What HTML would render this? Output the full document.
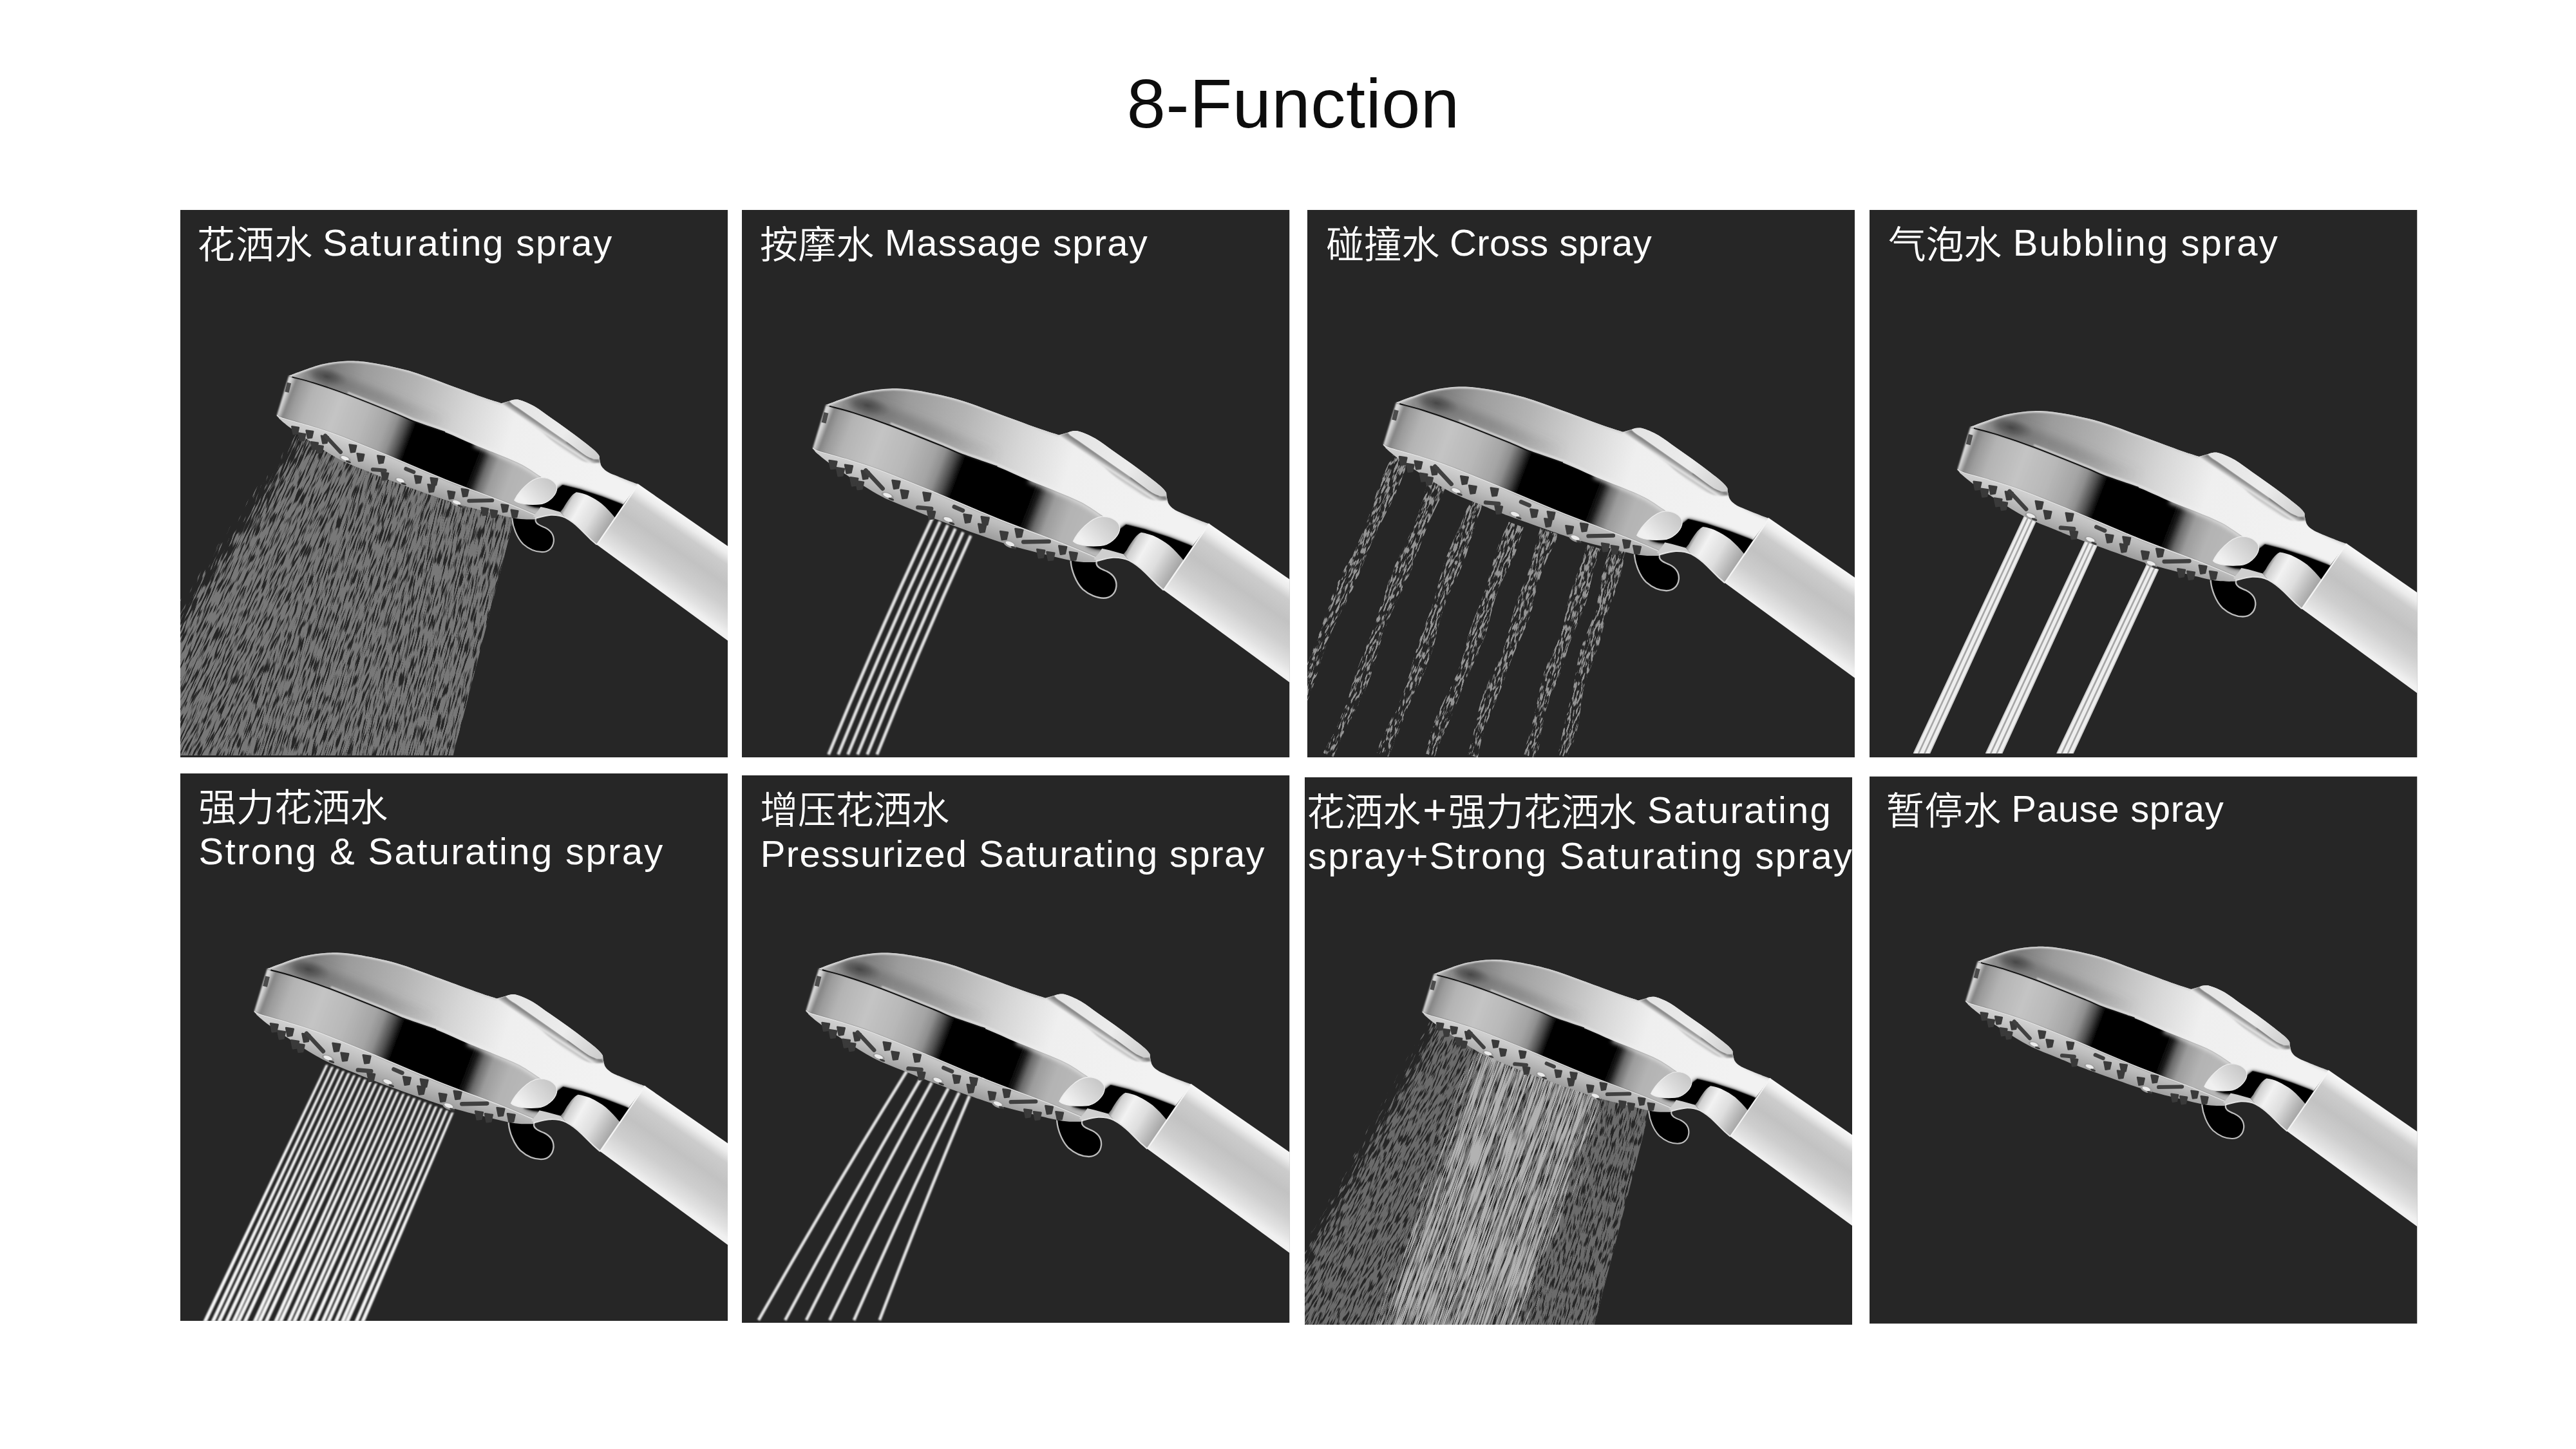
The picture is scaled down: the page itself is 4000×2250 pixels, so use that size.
<!DOCTYPE html>
<html lang="zh"><head><meta charset="utf-8"><title>8-Function</title>
<style>
html,body{margin:0;padding:0;background:#fff;}
body{width:4000px;height:2250px;position:relative;overflow:hidden;font-family:"Liberation Sans","Noto Sans CJK SC",sans-serif;}
#gfx{position:absolute;left:0;top:0;}
#txt{position:absolute;left:0;top:0;}
#txt text{fill:#fff;font-family:"Liberation Sans","Noto Sans CJK SC",sans-serif;}
#txt text.c{font-family:"Liberation Sans","Noto Sans CJK SC",sans-serif;font-weight:350;}
#txt text.t{fill:#0d0d0d;}
</style></head><body>
<svg id="gfx" width="4000" height="2250" viewBox="0 0 4000 2250">
<defs>

<linearGradient id="gBand" gradientUnits="userSpaceOnUse" x1="3052" y1="1540" x2="3470" y2="1700">
<stop offset="0" stop-color="#dedede"/><stop offset="0.015" stop-color="#d0d0d0"/><stop offset="0.032" stop-color="#868686"/>
<stop offset="0.055" stop-color="#9c9c9c"/><stop offset="0.10" stop-color="#b4b4b4"/><stop offset="0.20" stop-color="#c4c4c4"/><stop offset="0.30" stop-color="#b8b8b8"/>
<stop offset="0.38" stop-color="#a4a4a4"/><stop offset="0.41" stop-color="#8e8e8e"/><stop offset="0.443" stop-color="#505050"/><stop offset="0.474" stop-color="#060606"/>
<stop offset="0.50" stop-color="#000"/><stop offset="0.713" stop-color="#000"/><stop offset="0.733" stop-color="#1c1c1c"/>
<stop offset="0.758" stop-color="#6a6a6a"/><stop offset="0.79" stop-color="#9c9c9c"/><stop offset="0.85" stop-color="#b4b4b4"/><stop offset="1" stop-color="#bcbcbc"/>
</linearGradient>
<linearGradient id="gDome" gradientUnits="userSpaceOnUse" x1="3070" y1="1490" x2="3560" y2="1640">
<stop offset="0" stop-color="#c4c4c4"/><stop offset="0.05" stop-color="#8e8e8e"/><stop offset="0.12" stop-color="#7c7c7c"/><stop offset="0.22" stop-color="#9c9c9c"/>
<stop offset="0.38" stop-color="#b4b4b4"/><stop offset="0.55" stop-color="#d6d6d6"/><stop offset="0.7" stop-color="#efefef"/><stop offset="1" stop-color="#f2f2f2"/>
</linearGradient>
<radialGradient id="gDark" gradientUnits="userSpaceOnUse" cx="3130" cy="1494" r="34" gradientTransform="translate(3130 1494) rotate(14) scale(1 0.42) translate(-3130 -1494)">
<stop offset="0" stop-color="#333" stop-opacity="0.95"/><stop offset="0.5" stop-color="#444" stop-opacity="0.55"/><stop offset="1" stop-color="#666" stop-opacity="0"/>
</radialGradient>
<linearGradient id="gPlate" gradientUnits="userSpaceOnUse" x1="3200" y1="1600" x2="3185" y2="1645">
<stop offset="0" stop-color="#d6d6d6"/><stop offset="0.5" stop-color="#bcbcbc"/><stop offset="1" stop-color="#9a9a9a"/>
</linearGradient>
<linearGradient id="gHandle" gradientUnits="userSpaceOnUse" x1="3616.3" y1="1662.1" x2="3551.4" y2="1756.6">
<stop offset="0" stop-color="#f8f8f8"/><stop offset="0.1" stop-color="#ececec"/><stop offset="0.22" stop-color="#cccccc"/><stop offset="0.45" stop-color="#c2c2c2"/>
<stop offset="0.7" stop-color="#cecece"/><stop offset="0.9" stop-color="#e2e2e2"/><stop offset="1" stop-color="#f0f0f0"/>
</linearGradient>
<linearGradient id="gCyl" gradientUnits="userSpaceOnUse" x1="3497" y1="1697" x2="3567" y2="1737">
<stop offset="0" stop-color="#5a5a5a"/><stop offset="0.1" stop-color="#cfcfcf"/><stop offset="0.3" stop-color="#f2f2f2"/><stop offset="0.6" stop-color="#dedede"/><stop offset="0.85" stop-color="#b8b8b8"/><stop offset="1" stop-color="#a2a2a2"/>
</linearGradient>
<linearGradient id="gOval" gradientUnits="userSpaceOnUse" x1="3440" y1="1690" x2="3478" y2="1655">
<stop offset="0" stop-color="#f0f0f0"/><stop offset="0.5" stop-color="#dadada"/><stop offset="1" stop-color="#c8c8c8"/>
</linearGradient>
<linearGradient id="gBtn" gradientUnits="userSpaceOnUse" x1="3420" y1="1535" x2="3550" y2="1620">
<stop offset="0" stop-color="#e4e4e4"/><stop offset="0.6" stop-color="#ececec"/><stop offset="1" stop-color="#cfcfcf"/>
</linearGradient>
<linearGradient id="gWall" gradientUnits="userSpaceOnUse" x1="3479.4" y1="1578.3" x2="3470.6" y2="1591.7">
<stop offset="0" stop-color="#7e7e7e"/><stop offset="0.3" stop-color="#b2b2b2"/><stop offset="0.5" stop-color="#e8e8e8"/><stop offset="0.68" stop-color="#bdbdbd"/><stop offset="1" stop-color="#f0f0f0" stop-opacity="0"/>
</linearGradient>
<linearGradient id="gSeamHi" gradientUnits="userSpaceOnUse" x1="3300" y1="1560" x2="3286" y2="1600">
<stop offset="0" stop-color="#fff" stop-opacity="0"/><stop offset="1" stop-color="#fff" stop-opacity="0.55"/>
</linearGradient>
<filter id="fBlur2" x="-10%" y="-10%" width="120%" height="120%"><feGaussianBlur stdDeviation="2.2"/></filter>
<linearGradient id="gShade" gradientUnits="userSpaceOnUse" x1="3100" y1="1500" x2="3320" y2="1580"><stop offset="0" stop-color="#5e5e5e" stop-opacity="0.5"/><stop offset="0.5" stop-color="#5e5e5e" stop-opacity="0.36"/><stop offset="1" stop-color="#5e5e5e" stop-opacity="0"/></linearGradient>
<filter id="fBlur5" x="-20%" y="-60%" width="140%" height="220%"><feGaussianBlur stdDeviation="6"/></filter>
<filter id="fBlur3" x="-20%" y="-20%" width="140%" height="140%"><feGaussianBlur stdDeviation="3.2"/></filter>
<filter id="fBlur1" x="-10%" y="-10%" width="120%" height="120%"><feGaussianBlur stdDeviation="1.1"/></filter>
<clipPath id="cpTop"><path d="M3070.9,1493.1 C3074.5,1491.8 3083.6,1488.1 3092.6,1485.0 C3101.6,1481.9 3113.2,1477.2 3124.9,1474.7 C3136.6,1472.2 3150.2,1470.2 3162.8,1469.9 C3175.5,1469.6 3185.0,1470.3 3200.8,1472.8 C3216.6,1475.3 3238.7,1479.7 3257.7,1485.1 C3276.7,1490.5 3295.6,1498.2 3314.6,1505.0 C3333.6,1511.8 3357.0,1520.7 3371.6,1525.9 C3386.2,1531.1 3397.3,1534.3 3402.4,1536.0 L3415.4,1532.3 C3417.8,1532.0 3423.2,1529.0 3429.7,1530.4 C3436.2,1531.9 3446.2,1536.3 3454.5,1541.0 C3462.8,1545.7 3471.1,1552.6 3479.4,1558.4 C3487.7,1564.2 3495.9,1569.8 3504.2,1575.8 C3512.5,1581.8 3521.8,1588.8 3529.1,1594.4 C3536.3,1600.0 3543.3,1605.4 3547.7,1609.3 C3552.0,1613.2 3553.9,1616.5 3555.2,1618.0 L3556.0,1624.5 C3556.5,1626.1 3557.2,1631.4 3558.9,1634.2 C3560.6,1637.0 3563.0,1639.3 3566.3,1641.6 C3569.6,1643.9 3572.6,1645.1 3578.8,1647.8 C3585.0,1650.5 3597.3,1655.4 3603.6,1657.8 C3609.8,1660.2 3614.2,1661.6 3616.3,1662.4 L3592.4,1694.0 L3559.4,1681.5 L3525.2,1670.1 L3497.9,1663.3 L3488.8,1670.5 L3466,1652 C3460.8,1648.7 3446.3,1638.0 3435.0,1632.0 C3423.7,1626.0 3410.5,1621.0 3398.0,1615.8 C3385.5,1610.6 3373.9,1606.4 3360.0,1600.6 C3346.1,1594.8 3330.4,1587.0 3314.6,1580.9 C3298.8,1574.8 3278.0,1568.6 3265.3,1563.9 C3252.7,1559.2 3255.8,1559.4 3238.7,1552.5 C3221.6,1545.6 3184.2,1530.5 3162.8,1522.4 C3141.4,1514.4 3124.5,1508.8 3110.0,1504.2 C3095.5,1499.6 3081.7,1496.4 3076.0,1494.8Z"/></clipPath>
<clipPath id="cpBand"><path d="M3070.9,1493.1 L3076,1494.8 C3081.7,1496.4 3095.5,1499.6 3110.0,1504.2 C3124.5,1508.8 3141.4,1514.4 3162.8,1522.4 C3184.2,1530.5 3221.6,1545.6 3238.7,1552.5 C3255.8,1559.4 3252.7,1559.2 3265.3,1563.9 C3278.0,1568.6 3298.8,1574.8 3314.6,1580.9 C3330.4,1587.0 3346.1,1594.8 3360.0,1600.6 C3373.9,1606.4 3385.5,1610.6 3398.0,1615.8 C3410.5,1621.0 3423.7,1626.0 3435.0,1632.0 C3446.3,1638.0 3460.8,1648.7 3466.0,1652.0 L3470,1700 L3457,1711 C3449.1,1707.7 3433.2,1700.3 3409.5,1691.0 C3385.8,1681.7 3346.2,1667.6 3314.6,1654.9 C3283.0,1642.2 3248.2,1626.8 3219.8,1615.1 C3191.4,1603.4 3163.9,1592.1 3143.9,1584.7 C3123.9,1577.3 3113.9,1574.8 3100.0,1570.5 C3086.1,1566.2 3068.3,1561.8 3060.4,1559.1 C3052.5,1556.4 3053.7,1555.0 3052.3,1554.2Z"/></clipPath>
<g id="head">
<path d="M3419.4,1712 L3419.4,1716.8 C3420.5,1728.2 3426.2,1745.2 3436.4,1755.5 C3445.5,1763.5 3456.9,1768 3466,1768 C3475.1,1768 3483.1,1762.3 3484.2,1750.9 C3484.8,1740.7 3478.6,1733.9 3470.6,1729.9 C3463.8,1727 3456.9,1724.7 3455.8,1719 L3456.4,1712 Z" fill="#000" stroke="#bdbdbd" stroke-width="2.2"/>
<path d="M3052.3,1554.2 C3053.7,1555.0 3052.5,1556.4 3060.4,1559.1 C3068.3,1561.8 3086.1,1566.2 3100.0,1570.5 C3113.9,1574.8 3123.9,1577.3 3143.9,1584.7 C3163.9,1592.1 3191.4,1603.4 3219.8,1615.1 C3248.2,1626.8 3283.0,1642.2 3314.6,1654.9 C3346.2,1667.6 3385.8,1681.7 3409.5,1691.0 C3433.2,1700.3 3449.1,1707.7 3457.0,1711.0 L3457,1717 C3452.2,1716.8 3439.7,1717.6 3428.5,1716.0 C3417.3,1714.4 3407.1,1711.8 3390.0,1707.5 C3372.9,1703.2 3351.2,1698.5 3326.0,1690.5 C3300.8,1682.5 3260.5,1667.8 3238.7,1659.8 C3216.9,1651.8 3209.6,1648.5 3195.0,1642.5 C3180.4,1636.5 3165.6,1631.2 3151.4,1624.0 C3137.2,1616.8 3123.0,1607.3 3110.0,1599.0 C3097.0,1590.7 3082.6,1580.9 3073.6,1574.4 C3064.6,1567.9 3058.9,1562.4 3056.0,1560.0Z" fill="url(#gPlate)"/>
<path d="M3075.7,1572.1 l10.8,1.6 l-2.2,9.6 l-6.2,0.8z" fill="#3a3a3a" stroke="#3a3a3a" stroke-width="2.4" stroke-linejoin="round"/><path d="M3098.1,1578.3 l10.8,1.6 l-2.2,9.6 l-6.2,0.8z" fill="#3a3a3a" stroke="#3a3a3a" stroke-width="2.4" stroke-linejoin="round"/><path d="M3105.7,1596.2 l10.8,1.6 l-2.2,9.6 l-6.2,0.8z" fill="#3a3a3a" stroke="#3a3a3a" stroke-width="2.4" stroke-linejoin="round"/><path d="M3121.6,1586.6 l10.8,1.6 l-2.2,9.6 l-6.2,0.8z" fill="#3a3a3a" stroke="#3a3a3a" stroke-width="2.4" stroke-linejoin="round"/><path d="M3165.4,1600.4 l10.8,1.6 l-2.2,9.6 l-6.2,0.8z" fill="#3a3a3a" stroke="#3a3a3a" stroke-width="2.4" stroke-linejoin="round"/><path d="M3177.5,1614.2 l10.8,1.6 l-2.2,9.6 l-6.2,0.8z" fill="#3a3a3a" stroke="#3a3a3a" stroke-width="2.4" stroke-linejoin="round"/><path d="M3209.3,1617.6 l10.8,1.6 l-2.2,9.6 l-6.2,0.8z" fill="#3a3a3a" stroke="#3a3a3a" stroke-width="2.4" stroke-linejoin="round"/><path d="M3215.5,1643.5 l10.8,1.6 l-2.2,9.6 l-6.2,0.8z" fill="#3a3a3a" stroke="#3a3a3a" stroke-width="2.4" stroke-linejoin="round"/><path d="M3267.2,1648.7 l10.8,1.6 l-2.2,9.6 l-6.2,0.8z" fill="#3a3a3a" stroke="#3a3a3a" stroke-width="2.4" stroke-linejoin="round"/><path d="M3292.1,1652.2 l10.8,1.6 l-2.2,9.6 l-6.2,0.8z" fill="#3a3a3a" stroke="#3a3a3a" stroke-width="2.4" stroke-linejoin="round"/><path d="M3287.9,1662.5 l10.8,1.6 l-2.2,9.6 l-6.2,0.8z" fill="#3a3a3a" stroke="#3a3a3a" stroke-width="2.4" stroke-linejoin="round"/><path d="M3319.0,1672.9 l10.8,1.6 l-2.2,9.6 l-6.2,0.8z" fill="#3a3a3a" stroke="#3a3a3a" stroke-width="2.4" stroke-linejoin="round"/><path d="M3340.4,1669.4 l10.8,1.6 l-2.2,9.6 l-6.2,0.8z" fill="#3a3a3a" stroke="#3a3a3a" stroke-width="2.4" stroke-linejoin="round"/><path d="M3371.4,1698.7 l10.8,1.6 l-2.2,9.6 l-6.2,0.8z" fill="#3a3a3a" stroke="#3a3a3a" stroke-width="2.4" stroke-linejoin="round"/><path d="M3385.3,1702.2 l10.8,1.6 l-2.2,9.6 l-6.2,0.8z" fill="#3a3a3a" stroke="#3a3a3a" stroke-width="2.4" stroke-linejoin="round"/><path d="M3402.5,1693.6 l10.8,1.6 l-2.2,9.6 l-6.2,0.8z" fill="#3a3a3a" stroke="#3a3a3a" stroke-width="2.4" stroke-linejoin="round"/><path d="M3417.7,1702.2 l10.8,1.6 l-2.2,9.6 l-6.2,0.8z" fill="#3a3a3a" stroke="#3a3a3a" stroke-width="2.4" stroke-linejoin="round"/><path d="M3086.1,1582.4 l10.8,1.6 l-2.2,9.6 l-6.2,0.8z" fill="#3a3a3a" stroke="#3a3a3a" stroke-width="2.4" stroke-linejoin="round"/><path d="M3113.7,1601.4 l10.8,1.6 l-2.2,9.6 l-6.2,0.8z" fill="#3a3a3a" stroke="#3a3a3a" stroke-width="2.4" stroke-linejoin="round"/><line x1="3127.7" y1="1586.3" x2="3151.8" y2="1612.2" stroke="#404040" stroke-width="6" stroke-linecap="round"/><line x1="3201.9" y1="1639.1" x2="3220.9" y2="1640.8" stroke="#404040" stroke-width="6" stroke-linecap="round"/><line x1="3352.0" y1="1688.1" x2="3388.2" y2="1687.4" stroke="#404040" stroke-width="6" stroke-linecap="round"/><line x1="3253.6" y1="1638.1" x2="3265.7" y2="1643.3" stroke="#404040" stroke-width="6" stroke-linecap="round"/><ellipse cx="3158.7" cy="1622.5" rx="9.5" ry="4.6" transform="rotate(21 3158.7 1622.5)" fill="#9c9c9c"/><ellipse cx="3158.2" cy="1621.8" rx="6.5" ry="2.8" transform="rotate(21 3158.7 1622.5)" fill="#ececec"/><ellipse cx="3163.7" cy="1627.1" rx="4.2" ry="1.5" transform="rotate(21 3163.7 1627.5)" fill="#3a3a3a"/><ellipse cx="3245.0" cy="1657.1" rx="9.5" ry="4.6" transform="rotate(21 3245.0 1657.1)" fill="#9c9c9c"/><ellipse cx="3244.5" cy="1656.3" rx="6.5" ry="2.8" transform="rotate(21 3245.0 1657.1)" fill="#ececec"/><ellipse cx="3250.0" cy="1661.7" rx="4.2" ry="1.5" transform="rotate(21 3250.0 1662.1)" fill="#3a3a3a"/><ellipse cx="3333.0" cy="1691.6" rx="9.5" ry="4.6" transform="rotate(21 3333.0 1691.6)" fill="#9c9c9c"/><ellipse cx="3332.5" cy="1690.8" rx="6.5" ry="2.8" transform="rotate(21 3333.0 1691.6)" fill="#ececec"/><ellipse cx="3338.0" cy="1696.2" rx="4.2" ry="1.5" transform="rotate(21 3338.0 1696.6)" fill="#3a3a3a"/>
<path d="M3070.9,1493.1 L3076,1494.8 C3081.7,1496.4 3095.5,1499.6 3110.0,1504.2 C3124.5,1508.8 3141.4,1514.4 3162.8,1522.4 C3184.2,1530.5 3221.6,1545.6 3238.7,1552.5 C3255.8,1559.4 3252.7,1559.2 3265.3,1563.9 C3278.0,1568.6 3298.8,1574.8 3314.6,1580.9 C3330.4,1587.0 3346.1,1594.8 3360.0,1600.6 C3373.9,1606.4 3385.5,1610.6 3398.0,1615.8 C3410.5,1621.0 3423.7,1626.0 3435.0,1632.0 C3446.3,1638.0 3460.8,1648.7 3466.0,1652.0 L3470,1700 L3457,1711 C3449.1,1707.7 3433.2,1700.3 3409.5,1691.0 C3385.8,1681.7 3346.2,1667.6 3314.6,1654.9 C3283.0,1642.2 3248.2,1626.8 3219.8,1615.1 C3191.4,1603.4 3163.9,1592.1 3143.9,1584.7 C3123.9,1577.3 3113.9,1574.8 3100.0,1570.5 C3086.1,1566.2 3068.3,1561.8 3060.4,1559.1 C3052.5,1556.4 3053.7,1555.0 3052.3,1554.2Z" fill="url(#gBand)" filter="url(#fBlur1)"/>
<path d="M3052.3,1554.2 C3053.7,1555.0 3052.5,1556.4 3060.4,1559.1 C3068.3,1561.8 3086.1,1566.2 3100.0,1570.5 C3113.9,1574.8 3123.9,1577.3 3143.9,1584.7 C3163.9,1592.1 3191.4,1603.4 3219.8,1615.1 C3248.2,1626.8 3283.0,1642.2 3314.6,1654.9 C3346.2,1667.6 3385.8,1681.7 3409.5,1691.0 C3433.2,1700.3 3449.1,1707.7 3457.0,1711.0" fill="none" stroke="#e0e0e0" stroke-width="1.6"/>
<path d="M3070.9,1493.1 C3074.5,1491.8 3083.6,1488.1 3092.6,1485.0 C3101.6,1481.9 3113.2,1477.2 3124.9,1474.7 C3136.6,1472.2 3150.2,1470.2 3162.8,1469.9 C3175.5,1469.6 3185.0,1470.3 3200.8,1472.8 C3216.6,1475.3 3238.7,1479.7 3257.7,1485.1 C3276.7,1490.5 3295.6,1498.2 3314.6,1505.0 C3333.6,1511.8 3357.0,1520.7 3371.6,1525.9 C3386.2,1531.1 3397.3,1534.3 3402.4,1536.0 L3415.4,1532.3 C3417.8,1532.0 3423.2,1529.0 3429.7,1530.4 C3436.2,1531.9 3446.2,1536.3 3454.5,1541.0 C3462.8,1545.7 3471.1,1552.6 3479.4,1558.4 C3487.7,1564.2 3495.9,1569.8 3504.2,1575.8 C3512.5,1581.8 3521.8,1588.8 3529.1,1594.4 C3536.3,1600.0 3543.3,1605.4 3547.7,1609.3 C3552.0,1613.2 3553.9,1616.5 3555.2,1618.0 L3556.0,1624.5 C3556.5,1626.1 3557.2,1631.4 3558.9,1634.2 C3560.6,1637.0 3563.0,1639.3 3566.3,1641.6 C3569.6,1643.9 3572.6,1645.1 3578.8,1647.8 C3585.0,1650.5 3597.3,1655.4 3603.6,1657.8 C3609.8,1660.2 3614.2,1661.6 3616.3,1662.4 L3592.4,1694.0 L3559.4,1681.5 L3525.2,1670.1 L3497.9,1663.3 L3488.8,1670.5 L3466,1652 C3460.8,1648.7 3446.3,1638.0 3435.0,1632.0 C3423.7,1626.0 3410.5,1621.0 3398.0,1615.8 C3385.5,1610.6 3373.9,1606.4 3360.0,1600.6 C3346.1,1594.8 3330.4,1587.0 3314.6,1580.9 C3298.8,1574.8 3278.0,1568.6 3265.3,1563.9 C3252.7,1559.2 3255.8,1559.4 3238.7,1552.5 C3221.6,1545.6 3184.2,1530.5 3162.8,1522.4 C3141.4,1514.4 3124.5,1508.8 3110.0,1504.2 C3095.5,1499.6 3081.7,1496.4 3076.0,1494.8Z" fill="url(#gDome)"/>
<g clip-path="url(#cpTop)">
<rect x="3080" y="1470" width="110" height="60" fill="url(#gDark)"/>
<path d="M3110.0,1489.2 C3118.8,1492.2 3141.4,1499.4 3162.8,1507.4 C3184.2,1515.5 3221.6,1530.6 3238.7,1537.5 C3255.8,1544.4 3252.7,1544.2 3265.3,1548.9 C3278.0,1553.6 3306.4,1563.1 3314.6,1565.9" fill="none" stroke="url(#gShade)" stroke-width="20" filter="url(#fBlur5)"/>
<path d="M3162.8,1519.2 C3175.5,1524.2 3221.6,1542.4 3238.7,1549.3 C3255.8,1556.2 3252.7,1556.0 3265.3,1560.7 C3278.0,1565.4 3298.8,1571.6 3314.6,1577.7 C3330.4,1583.8 3352.4,1594.1 3360.0,1597.4" fill="none" stroke="#e6e6e6" stroke-opacity="0.75" stroke-width="2.6" filter="url(#fBlur1)"/>
<path d="M3070.9,1493.1 C3074.5,1491.8 3083.6,1488.1 3092.6,1485.0 C3101.6,1481.9 3113.2,1477.2 3124.9,1474.7 C3136.6,1472.2 3150.2,1470.2 3162.8,1469.9 C3175.5,1469.6 3185.0,1470.3 3200.8,1472.8 C3216.6,1475.3 3238.7,1479.7 3257.7,1485.1 C3276.7,1490.5 3295.6,1498.2 3314.6,1505.0 C3333.6,1511.8 3357.0,1520.7 3371.6,1525.9 C3386.2,1531.1 3397.3,1534.3 3402.4,1536.0" fill="none" stroke="#d4d4d4" stroke-width="5" filter="url(#fBlur1)"/>
<path d="M3402.4,1536 L3415.4,1532.5 C3418,1536.5 3424,1539.8 3429.7,1543.5 L3454.5,1560.9 L3479.4,1578.3 L3504.2,1595.6 L3522.9,1609.3 C3527,1612.3 3531,1615.3 3535.3,1618 C3538.5,1619.8 3541.8,1621.2 3545.2,1622.4 L3555,1623 L3557,1628 C3549,1630 3542,1630 3535,1628 C3526,1625 3518,1622 3510.4,1618 C3503,1613 3497,1608 3491.8,1603.1 C3483,1596 3475,1589 3467,1582 C3455,1573 3442,1563.5 3429.7,1554.7 C3420,1548 3411,1542 3402.4,1536Z" fill="url(#gWall)" filter="url(#fBlur1)"/>
<path d="M3552,1622 C3560,1636 3575,1648 3616,1664 L3616,1655 L3560,1615Z" fill="#9a9a9a" opacity="0.55" filter="url(#fBlur2)"/>
</g>
<path d="M3076.0,1494.8 C3081.7,1496.4 3095.5,1499.6 3110.0,1504.2 C3124.5,1508.8 3141.4,1514.4 3162.8,1522.4 C3184.2,1530.5 3221.6,1545.6 3238.7,1552.5 C3255.8,1559.4 3252.7,1559.2 3265.3,1563.9 C3278.0,1568.6 3306.4,1578.1 3314.6,1580.9" fill="none" stroke="#101010" stroke-width="1.8"/>
<path d="M3504.2,1596.4 L3522.9,1610.1 C3527,1613 3531,1616 3535.3,1618.7 C3538.5,1620.5 3541.8,1622 3545.2,1623.1" fill="none" stroke="#6a6a6a" stroke-width="2" filter="url(#fBlur1)" opacity="0.9"/>
<path d="M3360.0,1600.6 C3366.3,1603.1 3385.5,1610.6 3398.0,1615.8 C3410.5,1621.0 3423.7,1626.0 3435.0,1632.0 C3446.3,1638.0 3460.8,1648.7 3466.0,1652.0" fill="none" stroke="#efefef" stroke-width="6" stroke-opacity="0.8" filter="url(#fBlur3)"/>
<path d="M3488.8,1670.5 L3497.9,1663.3 L3525.2,1670.1 L3559.4,1681.5 L3592.4,1694 L3579.9,1714.5 L3559.4,1692.9 L3536.6,1679.2 L3519.5,1674.6 L3509.3,1683.8 L3499,1699.7 L3494.5,1705.4 L3474,1699.7 L3455,1698 L3440,1694 L3461.5,1690 L3480,1684 Z" fill="#000" filter="url(#fBlur3)"/>
<path d="M3488.8,1670.5 L3497.9,1663.3 L3525.2,1670.1 L3559.4,1681.5 L3592.4,1694 L3579.9,1714.5 L3559.4,1692.9 L3536.6,1679.2 L3519.5,1674.6 L3509.3,1683.8 L3499,1699.7 L3494.5,1705.4 L3474,1699.7 L3455,1698 L3440,1694 L3461.5,1690 L3480,1684 Z" fill="#000" filter="url(#fBlur1)"/>
<path d="M3452,1712.5 L3459.2,1704.2 L3463.8,1697.4 L3474,1699.7 L3494.5,1705.4 L3502.5,1714.5 C3494,1710.5 3487,1709.5 3479.7,1710 C3471,1710.8 3463,1713 3456.9,1714.5 Z" fill="#cfcfcf"/>
<path d="M3519.5,1674.6 C3526,1675.5 3531,1677 3536.6,1679.2 C3546,1683.5 3553,1688 3559.4,1692.9 C3567,1699.5 3574,1707 3579.9,1714.5 L3551.4,1756.6 C3548,1754 3545,1751.5 3542.3,1748.6 L3525.2,1731.6 C3518,1724.5 3510,1718.5 3502.5,1714.5 L3494.5,1705.4 L3499,1699.7 C3502,1694 3505.5,1689 3509.3,1683.8 C3512,1680 3515.5,1676.5 3519.5,1674.6Z" fill="url(#gCyl)"/>
<path d="M3422.8,1687.2 C3428.5,1674.6 3447.8,1653 3463.8,1651.9 C3479.7,1651.3 3491.1,1661 3488.8,1671.2 C3486.5,1681.5 3474,1692.9 3461.5,1693.4 C3445.5,1694.6 3428.5,1692.9 3422.8,1687.2Z" fill="url(#gOval)" stroke="#ededed" stroke-width="1.2"/>
<path d="M3455,1715.5 C3463,1713.5 3471,1711 3479.7,1710.3 C3488,1710 3495,1711 3502.5,1714.5 C3511,1719 3518,1724.5 3525.2,1731.6 L3542.3,1748.6 L3551.4,1756.6" fill="none" stroke="#e4e4e4" stroke-width="2"/>
<path d="M3616.3,1662.1 L3830,1810.2 L3830,1960.5 L3551.4,1756.6Z" fill="url(#gHandle)"/>
<path d="M3415.4,1532.5 C3419,1530.2 3424,1529.6 3429.7,1530.4 C3438,1532.5 3446.5,1536.5 3454.5,1541 C3463,1546.5 3471,1552.5 3479.4,1558.4 L3504.2,1575.8 C3512.5,1581.8 3521,1588 3529.1,1594.4 C3535.5,1599.3 3542,1604.3 3547.7,1609.3 C3551,1612.3 3554,1615.3 3555.2,1618 C3556,1620.5 3555,1622 3552.7,1622.6 C3550,1623.2 3547.5,1623 3545.2,1622.4 C3541.8,1621.2 3538.5,1619.8 3535.3,1618 C3531,1615.3 3527,1612.3 3522.9,1609.3 L3504.2,1595.6 L3479.4,1578.3 L3454.5,1560.9 L3429.7,1543.5 C3424,1539.8 3418,1536.5 3415.4,1532.5Z" fill="url(#gBtn)"/>
<path d="M3616.3,1662.1 L3551.4,1756.6" stroke="#f4f4f4" stroke-width="2.2" fill="none"/>
<rect x="3066.5" y="1504" width="6.5" height="15" fill="#4c4c4c" transform="rotate(14 3070 1511)"/>
</g>
<filter id="fSat" filterUnits="userSpaceOnUse" x="2300" y="1300" width="1700" height="1300" color-interpolation-filters="sRGB"><feTurbulence type="fractalNoise" baseFrequency="0.42 0.04" numOctaves="2" seed="4" result="n"/><feColorMatrix in="n" type="matrix" values="0 0 0 0 1  0 0 0 0 1  0 0 0 0 1  1 0 0 0 0" result="na"/><feComposite in="na" in2="SourceGraphic" operator="arithmetic" k1="0" k2="1" k3="1" k4="-1" result="c"/><feColorMatrix in="c" type="matrix" values="0 0 0 0 0.47  0 0 0 0 0.47  0 0 0 0 0.47  0 0 0 7 -2.6"/></filter><filter id="fSat2" filterUnits="userSpaceOnUse" x="2300" y="1300" width="1700" height="1300" color-interpolation-filters="sRGB"><feTurbulence type="fractalNoise" baseFrequency="0.45 0.012" numOctaves="2" seed="9" result="n"/><feColorMatrix in="n" type="matrix" values="0 0 0 0 1  0 0 0 0 1  0 0 0 0 1  1 0 0 0 0" result="na"/><feComposite in="na" in2="SourceGraphic" operator="arithmetic" k1="0" k2="1" k3="1" k4="-1" result="c"/><feColorMatrix in="c" type="matrix" values="0 0 0 0 0.7  0 0 0 0 0.7  0 0 0 0 0.7  0 0 0 7 -2.9"/></filter><filter id="fCross" filterUnits="userSpaceOnUse" x="2300" y="1300" width="1700" height="1300" color-interpolation-filters="sRGB"><feTurbulence type="fractalNoise" baseFrequency="0.42 0.085" numOctaves="2" seed="7" result="n"/><feColorMatrix in="n" type="matrix" values="0 0 0 0 1  0 0 0 0 1  0 0 0 0 1  1 0 0 0 0" result="na"/><feComposite in="na" in2="SourceGraphic" operator="arithmetic" k1="0" k2="1" k3="1" k4="-1" result="c"/><feColorMatrix in="c" type="matrix" values="0 0 0 0 0.58  0 0 0 0 0.58  0 0 0 0 0.58  0 0 0 8 -3.6"/></filter><filter id="fSat7" filterUnits="userSpaceOnUse" x="2300" y="1300" width="1700" height="1300" color-interpolation-filters="sRGB"><feTurbulence type="fractalNoise" baseFrequency="0.42 0.05" numOctaves="2" seed="11" result="n"/><feColorMatrix in="n" type="matrix" values="0 0 0 0 1  0 0 0 0 1  0 0 0 0 1  1 0 0 0 0" result="na"/><feComposite in="na" in2="SourceGraphic" operator="arithmetic" k1="0" k2="1" k3="1" k4="-1" result="c"/><feColorMatrix in="c" type="matrix" values="0 0 0 0 0.42  0 0 0 0 0.42  0 0 0 0 0.42  0 0 0 7 -2.6"/></filter>
<linearGradient id="gFadeL" gradientUnits="userSpaceOnUse" x1="0" y1="0" x2="110" y2="0">
<stop offset="0" stop-color="#fff" stop-opacity="0.62"/><stop offset="0.5" stop-color="#fff" stop-opacity="0.86"/><stop offset="1" stop-color="#fff" stop-opacity="1"/>
</linearGradient>
<linearGradient id="gFadeL1" gradientUnits="userSpaceOnUse" x1="2200" y1="0" x2="2330" y2="0">
<stop offset="0" stop-color="#fff" stop-opacity="0.6"/><stop offset="0.5" stop-color="#fff" stop-opacity="0.85"/><stop offset="1" stop-color="#fff" stop-opacity="1"/>
</linearGradient>
<filter id="fBlurL" filterUnits="userSpaceOnUse" x="2300" y="1300" width="1700" height="1300"><feGaussianBlur stdDeviation="0.8"/></filter>
<filter id="fBlurS" filterUnits="userSpaceOnUse" x="2300" y="1300" width="1700" height="1300"><feGaussianBlur stdDeviation="1.2"/></filter>
<linearGradient id="gStream" gradientUnits="objectBoundingBox" x1="0" y1="0.34" x2="0" y2="0.66">
<stop offset="0" stop-color="#fff" stop-opacity="1"/><stop offset="0.5" stop-color="#fff" stop-opacity="0.97"/><stop offset="1" stop-color="#fff" stop-opacity="0.93"/>
</linearGradient>
<linearGradient id="gTube" gradientUnits="objectBoundingBox" x1="0" y1="0" x2="1" y2="0">
<stop offset="0" stop-color="#d8d8d8"/><stop offset="0.18" stop-color="#ffffff"/><stop offset="0.42" stop-color="#c4c4c4"/><stop offset="0.6" stop-color="#f4f4f4"/><stop offset="0.8" stop-color="#cfcfcf"/><stop offset="1" stop-color="#f2f2f2"/>
</linearGradient>
<clipPath id="cp1"><rect x="280" y="326" width="850" height="850"/></clipPath>
<clipPath id="cp2"><rect x="1152" y="326" width="850.5" height="850"/></clipPath>
<clipPath id="cp3"><rect x="2030" y="326" width="850" height="850"/></clipPath>
<clipPath id="cp4"><rect x="2903" y="326" width="850.5" height="850"/></clipPath>
<clipPath id="cp5"><rect x="280" y="1201" width="850" height="850"/></clipPath>
<clipPath id="cp6"><rect x="1152" y="1204" width="850.5" height="850"/></clipPath>
<clipPath id="cp7"><rect x="2026" y="1207" width="850" height="850"/></clipPath>
<clipPath id="cp8"><rect x="2903" y="1205.5" width="850.5" height="850"/></clipPath>
<linearGradient id="gF1" gradientUnits="userSpaceOnUse" x1="3034.5" y1="1601.0" x2="3071.9" y2="1607.8"><stop offset="0" stop-color="#fff" stop-opacity="0.7"/><stop offset="0.55" stop-color="#fff" stop-opacity="0.925"/><stop offset="1" stop-color="#fff" stop-opacity="1.0"/></linearGradient><linearGradient id="gF7" gradientUnits="userSpaceOnUse" x1="2977.6" y1="1561.1" x2="3015.6" y2="1563.3"><stop offset="0" stop-color="#fff" stop-opacity="0.72"/><stop offset="0.55" stop-color="#fff" stop-opacity="0.930"/><stop offset="1" stop-color="#fff" stop-opacity="1.0"/></linearGradient><linearGradient id="gB7" gradientUnits="userSpaceOnUse" x1="3066.8" y1="1894.7" x2="3327.2" y2="1894.7"><stop offset="0" stop-color="#fff" stop-opacity="0.7"/><stop offset="0.16" stop-color="#fff" stop-opacity="1"/><stop offset="0.84" stop-color="#fff" stop-opacity="1"/><stop offset="1" stop-color="#fff" stop-opacity="0.7"/></linearGradient></defs>
<g clip-path="url(#cp1)">
<rect x="280" y="326" width="850" height="850" fill="#262626"/>
<g transform="translate(-2608.33,-902.65) scale(0.9954)">
<clipPath id="w1"><polygon points="2737.9,2085.2 3080.4,1578.9 3151.7,1622.1 3180.8,1636.2 2964.9,2085.2"/></clipPath><g clip-path="url(#w1)"><g transform="rotate(24 3100 1700)"><rect x="2200" y="1000" width="1600" height="1500" fill="url(#gF1)" filter="url(#fSat)"/></g></g><clipPath id="w2"><polygon points="3180.8,1636.2 3240.1,1659.3 3301.4,1682.4 3160.8,2085.2 2964.9,2085.2"/></clipPath><g clip-path="url(#w2)"><g transform="rotate(18 3200 1750)"><rect x="2300" y="1050" width="1600" height="1500" fill="#fff" filter="url(#fSat)"/></g></g><clipPath id="w3"><polygon points="3301.4,1682.4 3327.5,1691.4 3423.0,1712.5 3327.5,2085.2 3160.8,2085.2"/></clipPath><g clip-path="url(#w3)"><g transform="rotate(14 3350 1780)"><rect x="2450" y="1080" width="1600" height="1500" fill="#fff" filter="url(#fSat)"/></g></g><use href="#head"/>
</g>
</g>
<g clip-path="url(#cp2)">
<rect x="1152" y="326" width="850.5" height="850" fill="#262626"/>
<g transform="translate(-2069.18,-1000.84) scale(1.0914)">
<g fill="none" stroke="#e2e2e2" stroke-width="4.489544404589202" opacity="1" filter="url(#fBlurL)"><path d="M3222.6,1653.8 Q3144.6,1820.4 3074.7,1990.5"/><path d="M3233.4,1658.9 Q3157.0,1822.9 3088.5,1990.5"/><path d="M3244.3,1664.0 Q3169.4,1825.5 3102.2,1990.5"/><path d="M3255.2,1669.0 Q3181.8,1828.1 3116.0,1990.5"/><path d="M3266.1,1674.1 Q3194.2,1830.6 3129.8,1990.5"/><path d="M3277.0,1679.1 Q3206.5,1833.2 3143.6,1990.5"/></g><use href="#head"/>
</g>
</g>
<g clip-path="url(#cp3)">
<rect x="2030" y="326" width="850" height="850" fill="#262626"/>
<g transform="translate(-1094.06,-960.75) scale(1.0622)">
<clipPath id="w4"><polygon points="3066.4,1569.1 3058.8,1584.5 3051.7,1600.1 3045.4,1616.1 3039.8,1632.3 3034.6,1648.7 3029.1,1665.0 3023.0,1681.0 3015.9,1696.6 3008.2,1711.9 3000.0,1727.1 2992.1,1742.3 2984.7,1757.8 2978.1,1773.6 2972.3,1789.8 2966.8,1806.1 2961.4,1822.4 2955.6,1838.5 2949.4,1854.5 2942.9,1870.4 2936.3,1886.2 2930.0,1902.1 2923.9,1918.2 2918.1,1934.3 2912.2,1950.4 2905.9,1966.3 2898.8,1982.0 2911.0,1987.2 2919.3,1972.0 2927.5,1956.9 2935.4,1941.6 2942.5,1926.0 2948.7,1910.1 2954.2,1893.8 2959.2,1877.3 2964.3,1860.8 2969.9,1844.6 2976.3,1828.7 2983.5,1813.2 2991.3,1797.8 2999.1,1782.6 3006.7,1767.2 3013.7,1751.5 3020.1,1735.6 3026.4,1719.7 3032.7,1703.7 3039.6,1688.0 3047.0,1672.6 3054.8,1657.3 3062.7,1642.0 3070.1,1626.5 3076.9,1610.8 3082.9,1594.7 3088.5,1578.5"/></clipPath><g clip-path="url(#w4)"><g transform="rotate(23.0 3077 1774)"><rect x="2177" y="1074" width="1600" height="1500" fill="url(#gStream)" filter="url(#fCross)"/></g></g><clipPath id="w5"><polygon points="3119.8,1601.3 3114.8,1617.2 3110.2,1633.3 3105.4,1649.3 3099.9,1665.1 3093.5,1680.5 3086.4,1695.5 3078.9,1710.5 3071.6,1725.5 3065.0,1740.8 3059.1,1756.4 3053.8,1772.2 3048.9,1788.2 3044.0,1804.1 3038.6,1819.9 3032.8,1835.5 3026.6,1851.0 3020.5,1866.5 3014.6,1882.1 3009.1,1897.8 3004.0,1913.7 2998.8,1929.6 2993.2,1945.3 2986.9,1960.7 2979.7,1975.8 2971.9,1990.6 2963.9,2005.3 2979.2,2011.4 2985.8,1996.1 2992.7,1980.9 2999.9,1965.8 3007.4,1950.9 3015.0,1936.0 3022.3,1921.0 3028.9,1905.6 3034.6,1890.0 3039.6,1874.0 3044.1,1857.9 3048.6,1841.8 3053.7,1825.9 3059.7,1810.4 3066.5,1795.1 3073.8,1780.1 3081.2,1765.1 3088.2,1750.0 3094.5,1734.6 3100.3,1718.9 3105.7,1703.2 3111.3,1687.5 3117.4,1672.0 3124.1,1656.7 3131.3,1641.7 3138.7,1626.7 3145.7,1611.5"/></clipPath><g clip-path="url(#w5)"><g transform="rotate(21.6 3133 1806)"><rect x="2233" y="1106" width="1600" height="1500" fill="url(#gStream)" filter="url(#fCross)"/></g></g><clipPath id="w6"><polygon points="3178.1,1635.3 3173.7,1649.8 3168.4,1663.9 3162.3,1677.8 3156.0,1691.6 3149.8,1705.5 3144.2,1719.6 3139.5,1734.0 3135.3,1748.6 3131.4,1763.2 3127.4,1777.9 3122.8,1792.3 3117.8,1806.6 3112.4,1820.8 3107.1,1834.9 3102.2,1849.2 3097.7,1863.7 3093.6,1878.3 3089.6,1893.0 3085.1,1907.5 3080.0,1921.7 3073.9,1935.6 3067.2,1949.3 3060.2,1962.8 3053.5,1976.5 3047.5,1990.4 3042.4,2004.7 3059.7,2010.9 3065.5,1996.9 3071.2,1982.9 3076.7,1968.8 3082.1,1954.6 3087.8,1940.6 3093.8,1926.7 3100.2,1912.9 3106.8,1899.1 3113.0,1885.3 3118.7,1871.3 3123.5,1856.9 3127.5,1842.3 3131.1,1827.5 3134.7,1812.7 3138.9,1798.1 3143.9,1783.8 3149.8,1769.9 3156.3,1756.1 3162.7,1742.3 3168.7,1728.4 3174.0,1714.2 3178.6,1699.8 3182.8,1685.2 3187.2,1670.7 3192.1,1656.4 3197.7,1642.3"/></clipPath><g clip-path="url(#w6)"><g transform="rotate(19.8 3188 1839)"><rect x="2288" y="1139" width="1600" height="1500" fill="url(#gStream)" filter="url(#fCross)"/></g></g><clipPath id="w7"><polygon points="3235.6,1667.4 3229.8,1680.0 3224.1,1692.7 3219.0,1705.6 3214.8,1718.7 3211.1,1732.1 3207.5,1745.5 3203.8,1758.9 3199.4,1772.0 3194.6,1785.0 3189.4,1797.8 3184.3,1810.7 3179.6,1823.7 3175.5,1836.9 3171.8,1850.3 3168.3,1863.7 3164.3,1877.0 3159.7,1890.0 3154.1,1902.7 3147.9,1915.2 3141.3,1927.5 3135.1,1939.9 3129.5,1952.6 3124.8,1965.6 3120.9,1979.0 3117.6,1992.5 3114.5,2006.1 3127.3,2010.7 3132.0,1997.7 3137.4,1985.0 3143.0,1972.3 3148.5,1959.6 3153.8,1946.8 3158.8,1933.9 3163.7,1920.9 3168.7,1908.1 3174.2,1895.3 3180.1,1882.8 3186.2,1870.2 3192.0,1857.7 3197.4,1844.9 3201.9,1831.8 3205.6,1818.5 3208.9,1804.9 3212.3,1791.4 3216.2,1778.1 3221.0,1765.2 3226.6,1752.5 3232.8,1740.0 3238.9,1727.5 3244.5,1714.9 3249.4,1701.9 3253.4,1688.7 3257.1,1675.3"/></clipPath><g clip-path="url(#w7)"><g transform="rotate(20.1 3246 1871)"><rect x="2346" y="1171" width="1600" height="1500" fill="url(#gStream)" filter="url(#fCross)"/></g></g><clipPath id="w8"><polygon points="3281.7,1676.4 3278.0,1689.3 3274.7,1702.3 3271.6,1715.3 3268.1,1728.3 3264.0,1741.0 3259.3,1753.5 3254.2,1765.9 3249.3,1778.3 3244.9,1790.9 3241.2,1803.7 3238.0,1816.7 3234.9,1829.8 3231.5,1842.8 3227.3,1855.4 3222.2,1867.8 3216.4,1879.9 3210.4,1892.0 3204.5,1904.1 3199.4,1916.4 3195.1,1929.1 3191.7,1942.0 3188.7,1955.1 3185.8,1968.3 3182.8,1981.4 3179.4,1994.3 3175.6,2007.1 3190.4,2012.2 3192.8,1999.0 3195.7,1985.8 3199.4,1973.0 3203.9,1960.4 3209.0,1948.0 3214.3,1935.8 3219.6,1923.4 3224.4,1911.0 3228.9,1898.4 3233.3,1885.8 3237.8,1873.2 3242.6,1860.8 3248.0,1848.5 3253.6,1836.3 3259.2,1824.1 3264.2,1811.7 3268.4,1799.0 3271.9,1786.1 3274.9,1773.0 3278.0,1759.9 3281.6,1747.1 3286.1,1734.5 3291.4,1722.2 3297.3,1710.1 3303.1,1698.0 3308.4,1685.7"/></clipPath><g clip-path="url(#w8)"><g transform="rotate(19.1 3295 1881)"><rect x="2395" y="1181" width="1600" height="1500" fill="url(#gStream)" filter="url(#fCross)"/></g></g><clipPath id="w9"><polygon points="3349.7,1700.4 3346.7,1712.5 3343.1,1724.2 3338.8,1735.8 3334.1,1747.3 3329.7,1758.8 3325.8,1770.5 3322.6,1782.4 3320.1,1794.5 3317.8,1806.7 3315.1,1818.8 3311.7,1830.7 3307.3,1842.2 3302.2,1853.5 3296.9,1864.8 3291.7,1876.1 3287.3,1887.6 3283.7,1899.4 3280.9,1911.4 3278.5,1923.6 3276.2,1935.8 3273.6,1947.9 3270.6,1959.9 3267.3,1971.8 3263.9,1983.6 3260.6,1995.5 3257.5,2007.5 3275.3,2013.2 3278.7,2001.3 3281.2,1989.2 3283.1,1976.8 3285.0,1964.5 3287.4,1952.3 3290.5,1940.4 3294.5,1928.7 3299.2,1917.3 3304.0,1905.9 3308.7,1894.4 3312.9,1882.8 3316.6,1871.1 3320.1,1859.2 3323.8,1847.5 3327.8,1835.8 3332.4,1824.4 3337.4,1813.0 3342.3,1801.6 3346.8,1790.1 3350.5,1778.4 3353.5,1766.4 3356.0,1754.2 3358.6,1742.1 3361.6,1730.1 3365.5,1718.5 3370.3,1707.0"/></clipPath><g clip-path="url(#w9)"><g transform="rotate(17.7 3360 1904)"><rect x="2460" y="1204" width="1600" height="1500" fill="url(#gStream)" filter="url(#fCross)"/></g></g><clipPath id="w10"><polygon points="3385.3,1704.1 3380.9,1715.4 3376.8,1726.8 3373.3,1738.3 3370.6,1750.1 3368.6,1762.1 3366.9,1774.1 3364.8,1786.1 3362.0,1797.8 3358.2,1809.3 3353.7,1820.6 3348.9,1831.7 3344.4,1843.0 3340.5,1854.4 3337.5,1866.1 3335.2,1878.0 3333.3,1890.0 3331.4,1902.0 3329.1,1913.9 3326.4,1925.7 3323.3,1937.3 3320.3,1949.0 3317.5,1960.7 3314.9,1972.6 3312.5,1984.4 3310.0,1996.3 3307.0,2007.9 3320.6,2011.7 3325.5,2000.6 3330.1,1989.3 3333.9,1977.9 3336.8,1966.2 3338.9,1954.2 3340.4,1942.1 3341.8,1930.0 3343.8,1918.0 3346.6,1906.2 3350.2,1894.7 3354.5,1883.4 3359.0,1872.1 3363.2,1860.8 3366.8,1849.3 3370.0,1837.6 3372.8,1825.9 3375.7,1814.2 3379.1,1802.6 3383.0,1791.2 3387.4,1779.9 3391.9,1768.6 3396.0,1757.2 3399.4,1745.6 3402.0,1733.8 3404.1,1721.9 3406.2,1710.0"/></clipPath><g clip-path="url(#w10)"><g transform="rotate(15.6 3396 1907)"><rect x="2496" y="1207" width="1600" height="1500" fill="url(#gStream)" filter="url(#fCross)"/></g></g><use href="#head"/>
</g>
</g>
<g clip-path="url(#cp4)">
<rect x="2903" y="326" width="850.5" height="850" fill="#262626"/>
<g transform="translate(-230.01,-936.37) scale(1.0712)">
<polygon points="3149.6,1620.9 3166.6,1628.7 3012.4,1966.3 2988.2,1966.3" fill="#eeeeee"/><line x1="3154.9" y1="1623.3" x2="2995.8" y2="1966.3" stroke="#a6a6a6" stroke-width="2.43"/><line x1="3161.0" y1="1626.1" x2="3004.5" y2="1966.3" stroke="#a6a6a6" stroke-width="2.43"/><line x1="3150.0" y1="1621.1" x2="2988.7" y2="1966.3" stroke="#c8c8c8" stroke-width="1.49"/><line x1="3166.2" y1="1628.6" x2="3011.9" y2="1966.3" stroke="#c8c8c8" stroke-width="1.49"/><polygon points="3238.2,1656.4 3255.2,1664.2 3117.1,1966.3 3092.9,1966.3" fill="#eeeeee"/><line x1="3243.5" y1="1658.8" x2="3100.4" y2="1966.3" stroke="#a6a6a6" stroke-width="2.43"/><line x1="3249.6" y1="1661.6" x2="3109.1" y2="1966.3" stroke="#a6a6a6" stroke-width="2.43"/><line x1="3238.6" y1="1656.5" x2="3093.4" y2="1966.3" stroke="#c8c8c8" stroke-width="1.49"/><line x1="3254.8" y1="1664.1" x2="3116.6" y2="1966.3" stroke="#c8c8c8" stroke-width="1.49"/><polygon points="3326.8,1691.7 3343.7,1699.6 3220.1,1966.3 3195.9,1966.3" fill="#eeeeee"/><line x1="3332.1" y1="1694.2" x2="3203.4" y2="1966.3" stroke="#a6a6a6" stroke-width="2.43"/><line x1="3338.2" y1="1697.0" x2="3212.2" y2="1966.3" stroke="#a6a6a6" stroke-width="2.43"/><line x1="3327.2" y1="1691.9" x2="3196.4" y2="1966.3" stroke="#c8c8c8" stroke-width="1.49"/><line x1="3343.4" y1="1699.5" x2="3219.7" y2="1966.3" stroke="#c8c8c8" stroke-width="1.49"/><use href="#head"/>
</g>
</g>
<g clip-path="url(#cp5)">
<rect x="280" y="1201" width="850" height="850" fill="#262626"/>
<g transform="translate(-2889.12,-102.06) scale(1.0759)">
<g fill="#f4f4f4" filter="url(#fBlurS)"><polygon points="3155.4,1631.6 3159.1,1631.6 2984.1,2002.2 2978.3,2002.2"/><polygon points="3163.3,1634.6 3167.0,1634.6 2995.5,2002.2 2989.7,2002.2"/><polygon points="3171.2,1637.6 3174.9,1637.6 3004.4,2002.2 2998.6,2002.2"/><polygon points="3179.1,1640.6 3182.8,1640.6 3015.4,2002.2 3009.6,2002.2"/><polygon points="3186.9,1643.6 3190.7,1643.6 3025.3,2002.2 3019.6,2002.2"/><polygon points="3194.8,1646.6 3198.5,1646.6 3032.2,2002.2 3026.5,2002.2"/><polygon points="3202.7,1649.6 3206.4,1649.6 3041.8,2002.2 3036.0,2002.2"/><polygon points="3210.6,1652.6 3214.3,1652.6 3055.9,2002.2 3050.1,2002.2"/><polygon points="3218.4,1655.6 3222.2,1655.6 3062.7,2002.2 3056.9,2002.2"/><polygon points="3226.3,1658.6 3230.0,1658.6 3072.4,2002.2 3066.6,2002.2"/><polygon points="3234.2,1661.6 3237.9,1661.6 3086.1,2002.2 3080.4,2002.2"/><polygon points="3242.1,1664.6 3245.8,1664.6 3093.2,2002.2 3087.4,2002.2"/><polygon points="3249.9,1667.6 3253.7,1667.6 3104.9,2002.2 3099.2,2002.2"/><polygon points="3257.8,1670.6 3261.5,1670.6 3112.9,2002.2 3107.1,2002.2"/><polygon points="3265.7,1673.6 3269.4,1673.6 3123.5,2002.2 3117.8,2002.2"/><polygon points="3273.6,1676.6 3277.3,1676.6 3130.8,2002.2 3125.0,2002.2"/><polygon points="3281.4,1679.6 3285.2,1679.6 3143.1,2002.2 3137.4,2002.2"/><polygon points="3289.3,1682.6 3293.0,1682.6 3154.1,2002.2 3148.4,2002.2"/><polygon points="3297.2,1685.6 3300.9,1685.6 3162.2,2002.2 3156.4,2002.2"/><polygon points="3305.1,1688.6 3308.8,1688.6 3173.1,2002.2 3167.3,2002.2"/><polygon points="3313.0,1691.6 3316.7,1691.6 3182.6,2002.2 3176.8,2002.2"/><polygon points="3320.8,1694.5 3324.5,1694.5 3189.2,2002.2 3183.4,2002.2"/><polygon points="3328.7,1697.5 3332.4,1697.5 3202.6,2002.2 3196.9,2002.2"/><polygon points="3336.6,1700.5 3340.3,1700.5 3211.6,2002.2 3205.8,2002.2"/></g><use href="#head"/>
</g>
</g>
<g clip-path="url(#cp6)">
<rect x="1152" y="1204" width="850.5" height="850" fill="#262626"/>
<g transform="translate(-1987.73,-80.41) scale(1.0613)">
<g fill="none" stroke="#e4e4e4" stroke-width="4.42836805495601" opacity="1" filter="url(#fBlurL)"><path d="M3200.4,1641.7 Q3087.9,1822.3 2982.7,2007.3"/><path d="M3221.6,1651.4 Q3118.1,1827.4 3021.7,2007.3"/><path d="M3236.2,1659.5 Q3140.9,1831.6 3052.5,2007.3"/><path d="M3260.6,1667.7 Q3170.3,1835.8 3086.7,2007.3"/><path d="M3276.2,1674.2 Q3196.0,1839.2 3122.4,2007.3"/><path d="M3291.4,1679.0 Q3222.3,1841.8 3159.8,2007.3"/></g><use href="#head"/>
</g>
</g>
<g clip-path="url(#cp7)">
<rect x="2026" y="1207" width="850" height="850" fill="#262626"/>
<g transform="translate(-714.81,82.30) scale(0.9578)">
<clipPath id="w11"><polygon points="2778.8,2075.4 3062.7,1566.4 3152.8,1624.9 2963.6,2062.3"/></clipPath><g clip-path="url(#w11)"><g transform="rotate(26 3000 1750)"><rect x="2100" y="1050" width="1600" height="1500" fill="url(#gF7)" filter="url(#fSat7)"/></g></g><clipPath id="w12"><polygon points="3152.8,1624.9 3334.7,1683.2 3225.6,2062.3 2963.6,2062.3"/></clipPath><g clip-path="url(#w12)"><g transform="rotate(19 3200 1780)"><rect x="2300" y="1080" width="1600" height="1500" fill="#fff" filter="url(#fSat7)"/></g></g><clipPath id="w13"><polygon points="3334.7,1683.2 3422.1,1708.7 3331.1,2062.3 3225.6,2062.3"/></clipPath><g clip-path="url(#w13)"><g transform="rotate(15 3350 1800)"><rect x="2450" y="1100" width="1600" height="1500" fill="#fff" filter="url(#fSat7)"/></g></g><clipPath id="w14"><polygon points="3130.8,1616.9 3356.7,1691.2 3247.6,2062.3 2941.6,2062.3"/></clipPath><g clip-path="url(#w14)"><g transform="rotate(19.5 3200 1780)"><rect x="2300" y="1080" width="1600" height="1500" fill="url(#gB7)" filter="url(#fSat2)"/></g></g><use href="#head"/>
</g>
</g>
<g clip-path="url(#cp8)">
<rect x="2903" y="1205.5" width="850.5" height="850" fill="#262626"/>
<g transform="translate(0.00,0.00) scale(1.0000)">
<use href="#head"/>
</g>
</g>
</svg>
<svg id="txt" width="4000" height="2250" viewBox="0 0 4000 2250">
<text id="t0" class="t" x="1749.84" y="197.6" font-size="108" textLength="516.32" lengthAdjust="spacing">8-Function</text>
<text id="t1" class="c" x="305.94" y="400.5" font-size="59" textLength="179.42" lengthAdjust="spacing">花洒水</text>
<text id="t2" class="l" x="500.98" y="397.0" font-size="58" textLength="449.34" lengthAdjust="spacing">Saturating spray</text>
<text id="t3" class="c" x="1179.94" y="400.5" font-size="59" textLength="177.42" lengthAdjust="spacing">按摩水</text>
<text id="t4" class="l" x="1373.68" y="397.0" font-size="58" textLength="408.04" lengthAdjust="spacing">Massage spray</text>
<text id="t5" class="c" x="2059.14" y="400.5" font-size="59" textLength="176.22" lengthAdjust="spacing">碰撞水</text>
<text id="t6" class="l" x="2250.98" y="397.0" font-size="58" textLength="313.74" lengthAdjust="spacing">Cross spray</text>
<text id="t7" class="c" x="2931.64" y="400.5" font-size="59" textLength="176.72" lengthAdjust="spacing">气泡水</text>
<text id="t8" class="l" x="3125.68" y="397.0" font-size="58" textLength="411.04" lengthAdjust="spacing">Bubbling spray</text>
<text id="t9" class="c" x="308.34" y="1275.0" font-size="59" textLength="294.02" lengthAdjust="spacing">强力花洒水</text>
<text id="t10" class="l" x="308.38" y="1341.9" font-size="58" textLength="720.94" lengthAdjust="spacing">Strong &amp; Saturating spray</text>
<text id="t11" class="c" x="1180.34" y="1278.5" font-size="59" textLength="294.02" lengthAdjust="spacing">增压花洒水</text>
<text id="t12" class="l" x="1180.68" y="1345.9" font-size="58" textLength="782.94" lengthAdjust="spacing">Pressurized Saturating spray</text>
<text id="t13" class="c" x="2029.04" y="1281.5" font-size="59" textLength="177.12" lengthAdjust="spacing">花洒水</text>
<text id="t14" class="l" x="2209.18" y="1280.0" font-size="64" textLength="44.34" lengthAdjust="spacing">+</text>
<text id="t15" class="c" x="2248.64" y="1281.5" font-size="59" textLength="292.52" lengthAdjust="spacing">强力花洒水</text>
<text id="t16" class="l" x="2558.08" y="1278.0" font-size="58" textLength="284.74" lengthAdjust="spacing">Saturating</text>
<text id="t17" class="l" x="2031.08" y="1348.9" font-size="58" textLength="844.74" lengthAdjust="spacing">spray+Strong Saturating spray</text>
<text id="t18" class="c" x="2928.64" y="1279.5" font-size="59" textLength="178.72" lengthAdjust="spacing">暂停水</text>
<text id="t19" class="l" x="3123.28" y="1276.0" font-size="58" textLength="329.54" lengthAdjust="spacing">Pause spray</text>
</svg>
</body></html>
